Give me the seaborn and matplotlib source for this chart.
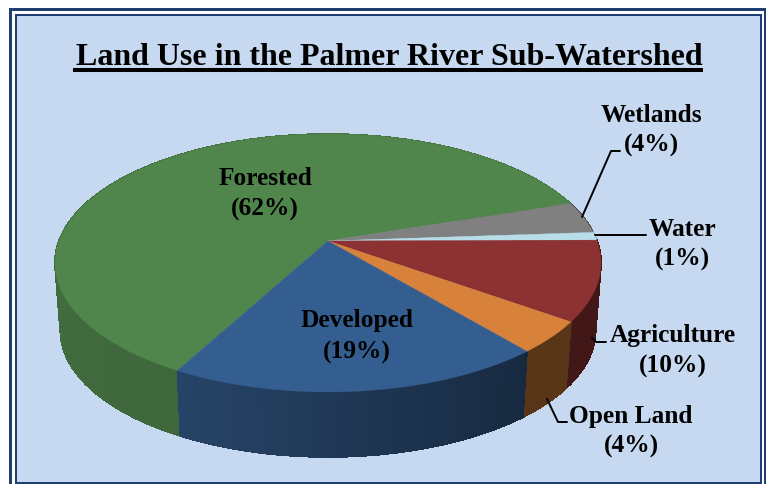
import numpy as np
import matplotlib
matplotlib.use("Agg")
import matplotlib.pyplot as plt
from matplotlib.patches import Rectangle
from matplotlib.collections import PolyCollection
import seaborn as sns

# Data: slices in clockwise order from the Forested slice
categories = ["Forested", "Wetlands", "Water", "Agriculture", "Open Land", "Developed"]
shares = [62, 4, 1, 10, 4, 19]
top_colors = ["#50854C", "#808080", "#B7DEE8", "#8C3232", "#D8813B", "#355E90"]
side_start = [0.78, 0.6, 0.7, 0.47, 0.41, 0.44]
side_end = [0.93, 0.6, 0.7, 0.47, 0.41, 0.72]
title = "Land Use in the Palmer River Sub-Watershed"

sns.set_theme(style="white")
plt.rcParams["font.family"] = ["Liberation Serif", "DejaVu Serif"]
palette = sns.color_palette(top_colors)

FRAME_DARK = "#1F3F73"
BACKGROUND = "#C6D9F1"
START_ANGLE = 241.6  # where Forested begins, running clockwise from here

# Pie in perspective: circle -> screen by a projective map
APEX_X, APEX_Y = 328, 242
A, B, K = 269.0, 125.2, 0.1705
DEPTH, SHRINK = 68, 0.98


def project(theta_deg, rim_scale=1.0, drop=0.0):
    t = np.radians(theta_deg)
    x, y = np.cos(t), np.sin(t)
    w = 1 + K * y
    return np.column_stack((APEX_X + rim_scale * A * x / w,
                            APEX_Y + drop - rim_scale * B * y / w))


fig = plt.figure(figsize=(7.68, 4.85), dpi=100, facecolor="white")
ax = fig.add_axes([0, 0, 1, 1])
ax.set_xlim(0, 768)
ax.set_ylim(485, 0)
ax.axis("off")

# Double frame
ax.add_patch(Rectangle((9, 9), 757, 480, fc=FRAME_DARK, ec="none"))
ax.add_patch(Rectangle((11.5, 11.5), 752, 480, fc="white", ec="none"))
ax.add_patch(Rectangle((14.5, 14.5), 747.5, 470, fc=FRAME_DARK, ec="none"))
ax.add_patch(Rectangle((16.5, 16.5), 743.5, 466.5, fc=BACKGROUND, ec="none"))

# Slice boundaries in circle angle, clockwise from START_ANGLE
fractions = np.cumsum([0] + shares) / sum(shares)
edges = START_ANGLE - 360 * fractions

# Side wall
for i, color in enumerate(palette):
    th = np.linspace(edges[i], edges[i + 1], max(4, int(abs(edges[i] - edges[i + 1]) * 1.5)))
    top = project(th)
    bot = project(th, SHRINK, DEPTH)
    polys, cols = [], []
    shades = np.linspace(side_start[i], side_end[i], len(th) - 1)
    for j in range(len(th) - 1):
        polys.append([top[j], top[j + 1], bot[j + 1], bot[j]])
        cols.append(tuple(np.array(color) * shades[j]))
    ax.add_collection(PolyCollection(polys, facecolors=cols, edgecolors=cols,
                                     linewidths=0.6, antialiaseds=False))

# Top face
for i, color in enumerate(palette):
    th = np.linspace(edges[i], edges[i + 1], 240)
    rim = project(th)
    xs = np.r_[APEX_X, rim[:, 0]]
    ys = np.r_[APEX_Y, rim[:, 1]]
    ax.fill(xs, ys, color=color, lw=0.3, zorder=3)

# Title with thick underline
ax.text(389, 57.5, title, ha="center", va="center", fontsize=23, fontweight="bold",
        color="black", zorder=5)
ax.plot([73, 703], [71, 71], color="black", lw=2.9, solid_capstyle="butt", zorder=5)

# Labels
label_pos = {
    "Forested": (265, 179, 209),
    "Developed": (357, 321, 352),
    "Wetlands": (651, 116, 145),
    "Water": (682, 230, 259),
    "Agriculture": (673, 336, 366),
    "Open Land": (631, 417, 446),
}
for name, share in zip(categories, shares):
    x, y1, y2 = label_pos[name]
    ax.text(x, y1, name, ha="center", va="center", fontsize=18.3, fontweight="bold",
            color="black", zorder=5)
    ax.text(x, y2, f"({share}%)", ha="center", va="center", fontsize=18.3, fontweight="bold",
            color="black", zorder=5)

# Leader lines
leaders = [
    ([582, 611, 620], [218, 152, 152]),
    ([595, 646], [236, 236]),
    ([592, 596, 606], [339, 343, 343]),
    ([547, 558, 567], [400, 423, 423]),
]
for lx, ly in leaders:
    ax.plot(lx, ly, color="black", lw=1.4, zorder=5)

fig.savefig("out.png", dpi=100, facecolor="white")
